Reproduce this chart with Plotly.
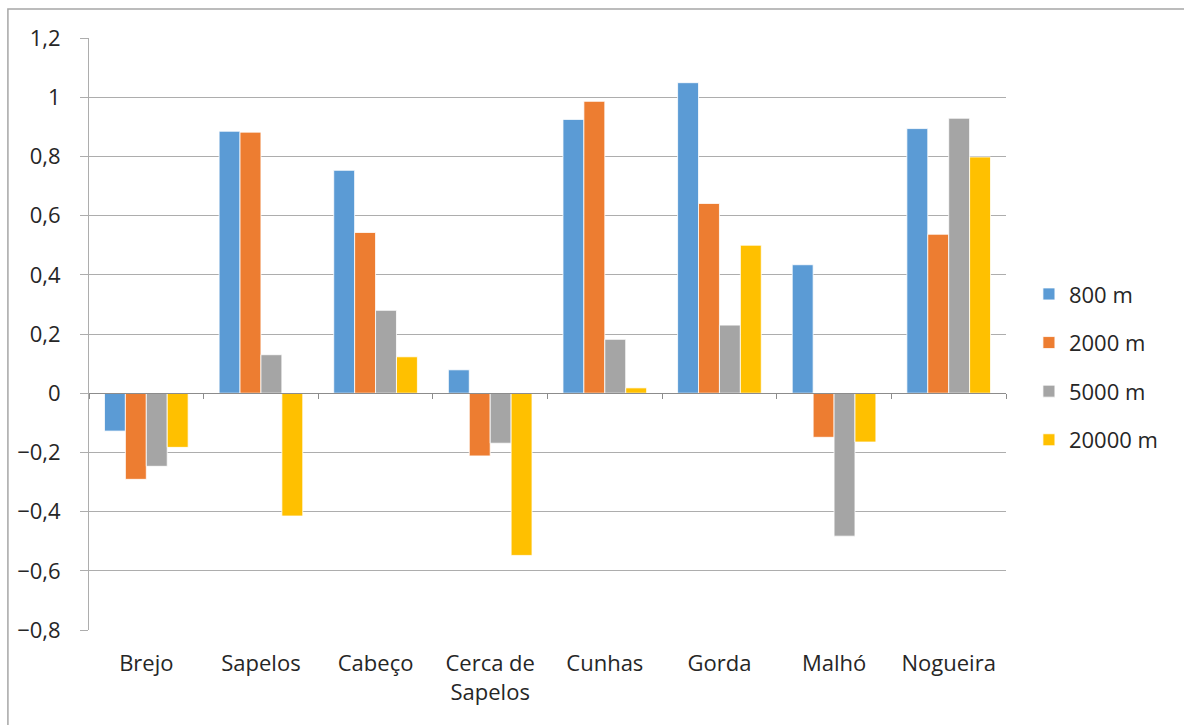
import plotly.graph_objects as go

# Sites along the category axis
sites = ["Brejo", "Sapelos", "Cabeço", "Cerca de<br>Sapelos", "Cunhas", "Gorda", "Malhó", "Nogueira"]

# Values per buffer distance
v800 = [-0.128, 0.885, 0.753, 0.079, 0.925, 1.049, 0.434, 0.894]
v2000 = [-0.291, 0.882, 0.543, -0.212, 0.986, 0.641, -0.149, 0.537]
v5000 = [-0.247, 0.130, 0.280, -0.169, 0.182, 0.230, -0.483, 0.929]
v20000 = [-0.183, -0.415, 0.123, -0.548, 0.018, 0.500, -0.165, 0.798]

series_names = ["800 m", "2000 m", "5000 m", "20000 m"]
colors = ["#5B9BD5", "#ED7D31", "#A5A5A5", "#FFC000"]

y_ticks = [-0.8, -0.6, -0.4, -0.2, 0, 0.2, 0.4, 0.6, 0.8, 1, 1.2]
y_min, y_max = -0.8, 1.2

FONT = "'Open Sans', sans-serif"
TEXT = "#262626"
GRID = "#ADADAD"
AXIS = "#8C8C8C"

fig = go.Figure()
for name, vals, col in zip(series_names, [v800, v2000, v5000, v20000], colors):
    fig.add_trace(go.Bar(
        x=list(range(len(sites))), y=vals, name=name,
        marker=dict(color=col, line=dict(color="white", width=0.8)),
        legendgroup=name,
    ))

# Helper trace for the category axis drawn at zero
fig.add_trace(go.Scatter(x=[-0.5, 7.5], y=[0, 0], xaxis="x2", mode="lines",
                         line=dict(width=0), showlegend=False, hoverinfo="skip"))

zero_pos = (0 - y_min) / (y_max - y_min)

fig.update_layout(
    width=1184, height=725,
    margin=dict(l=89, r=178, t=38, b=95),
    paper_bgcolor="white", plot_bgcolor="white",
    separators=", ",
    barmode="group", bargap=0.27, bargroupgap=0,
    font=dict(family=FONT, size=22, color=TEXT),
    xaxis=dict(
        range=[-0.5, 7.5], tickvals=list(range(len(sites))), ticktext=sites,
        showgrid=False, zeroline=False, showline=False, ticks="",
        tickfont=dict(size=22, color=TEXT), ticklabelstandoff=18,
    ),
    xaxis2=dict(
        overlaying="x", anchor="free", position=zero_pos, range=[-0.5, 7.5],
        tickvals=[i - 0.5 for i in range(len(sites) + 1)], showticklabels=False,
        ticks="outside", ticklen=5, tickcolor=AXIS, tickwidth=1,
        showline=True, linecolor=AXIS, linewidth=1.2, showgrid=False, zeroline=False,
    ),
    yaxis=dict(
        range=[y_min, y_max], tickvals=y_ticks, tickformat=".1~f",
        showgrid=True, gridcolor=GRID, gridwidth=1,
        zeroline=False, showline=True, linecolor=GRID, linewidth=1,
        ticks="outside", ticklen=8, tickcolor=GRID,
        tickfont=dict(size=22, color=TEXT), ticklabelstandoff=15,
    ),
    legend=dict(
        x=1.025, y=0.444, xanchor="left", yanchor="middle",
        font=dict(size=22, color=TEXT), tracegroupgap=17,
        itemwidth=30, bgcolor="rgba(0,0,0,0)",
    ),
    shapes=[dict(type="rect", xref="paper", yref="paper",
                 x0=-81 / 916, x1=1.3, y0=-0.2, y1=1 + 29 / 592,
                 line=dict(color="#A6A6A6", width=1.5), layer="below")],
)

fig.write_html("out.html")
